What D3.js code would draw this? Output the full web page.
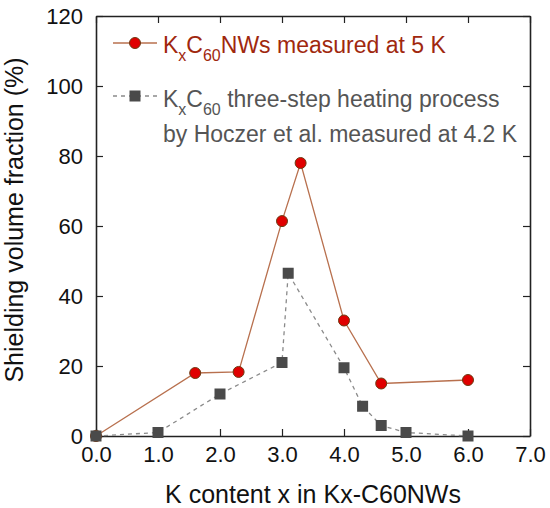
<!DOCTYPE html>
<html>
<head>
<meta charset="utf-8">
<script src="https://cdn.jsdelivr.net/npm/d3@7"></script>
<style>
  body { margin: 0; background: #fff; }
  text { font-family: "Liberation Sans", Arial, sans-serif; }
</style>
</head>
<body>
<div id="chart"></div>
<script>
// chart data
const nwX = [0, 1.6, 2.3, 3.0, 3.3, 4.0, 4.6, 6.0];
const nwY = [0, 18, 18.3, 61.4, 78, 33, 15, 16];
const hoX = [0, 1.0, 2.0, 3.0, 3.1, 4.0, 4.3, 4.6, 5.0, 6.0];
const hoY = [0, 1, 12, 21, 46.5, 19.5, 8.5, 3, 1, 0];
const xTicks = [0, 1, 2, 3, 4, 5, 6, 7];
const yTicks = [0, 20, 40, 60, 80, 100, 120];

const width = 550;
const height = 508;
const margin = {left: 96, right: 20, top: 16, bottom: 72};

const svg = d3.select("#chart")
  .append("svg")
  .attr("width", width)
  .attr("height", height);

const x = d3.scaleLinear()
  .domain([0, 7])
  .range([margin.left, width - margin.right]);

const y = d3.scaleLinear()
  .domain([0, 120])
  .range([height - margin.bottom, margin.top]);

const axisColor = "#222";

function styleAxis(g) {
  g.select(".domain").attr("stroke", axisColor).attr("stroke-width", 1.6);
  g.selectAll(".tick line").attr("stroke", axisColor).attr("stroke-width", 1.2);
  g.selectAll(".tick text").attr("fill", "#111").attr("font-size", "22px")
    .attr("font-family", "Liberation Sans, Arial, sans-serif");
}

// bottom axis
svg.append("g")
  .attr("transform", `translate(0,${y(0)})`)
  .call(d3.axisBottom(x).tickValues(xTicks).tickFormat(d3.format(".1f"))
    .tickSizeInner(-7).tickSizeOuter(0).tickPadding(10))
  .call(styleAxis);

// left axis
svg.append("g")
  .attr("transform", `translate(${x(0)},0)`)
  .call(d3.axisLeft(y).tickValues(yTicks)
    .tickSizeInner(-7).tickSizeOuter(0).tickPadding(13))
  .call(styleAxis);

// top and right frame
svg.append("g")
  .attr("transform", `translate(0,${y(120)})`)
  .call(d3.axisTop(x).tickValues(xTicks).tickFormat("")
    .tickSizeInner(-7).tickSizeOuter(0))
  .call(styleAxis);

svg.append("g")
  .attr("transform", `translate(${x(7)},0)`)
  .call(d3.axisRight(y).tickValues(yTicks).tickFormat("")
    .tickSizeInner(-7).tickSizeOuter(0))
  .call(styleAxis);

// axis titles
svg.append("text")
  .attr("x", (x(0) + x(7)) / 2)
  .attr("y", 503)
  .attr("text-anchor", "middle")
  .attr("font-size", "25px")
  .attr("fill", "#111")
  .text("K content x in Kx-C60NWs");

svg.append("text")
  .attr("transform", "translate(23,220) rotate(-90)")
  .attr("text-anchor", "middle")
  .attr("font-size", "25px")
  .attr("fill", "#111")
  .text("Shielding volume fraction (%)");

const redLine = "#b8704e";
const redFill = "#e00000";
const redEdge = "#6e3a12";
const grayFill = "#4a4a4a";
const grayLine = "#8a8a8a";

const nwData = nwX.map((d, i) => ({x: d, y: nwY[i]}));
const hoData = hoX.map((d, i) => ({x: d, y: hoY[i]}));

const line = d3.line().x(d => x(d.x)).y(d => y(d.y));

// Hoczer et al. series
svg.append("path")
  .datum(hoData)
  .attr("fill", "none")
  .attr("stroke", grayLine)
  .attr("stroke-width", 1.3)
  .attr("stroke-dasharray", "4,4")
  .attr("d", line);

// nanowire series
svg.append("path")
  .datum(nwData)
  .attr("fill", "none")
  .attr("stroke", redLine)
  .attr("stroke-width", 1.3)
  .attr("d", line);

svg.selectAll(".nw")
  .data(nwData)
  .enter()
  .append("circle")
    .attr("class", "nw")
    .attr("cx", d => x(d.x))
    .attr("cy", d => y(d.y))
    .attr("r", 5.5)
    .attr("fill", redFill)
    .attr("stroke", redEdge)
    .attr("stroke-width", 1);

svg.selectAll(".ho")
  .data(hoData)
  .enter()
  .append("rect")
    .attr("class", "ho")
    .attr("x", d => x(d.x) - 5.5)
    .attr("y", d => y(d.y) - 5.5)
    .attr("width", 11)
    .attr("height", 11)
    .attr("fill", grayFill);

// legend
const lg = svg.append("g");

lg.append("line")
  .attr("x1", 113).attr("x2", 157).attr("y1", 43).attr("y2", 43)
  .attr("stroke", redLine).attr("stroke-width", 1.3);
lg.append("circle")
  .attr("cx", 135).attr("cy", 43).attr("r", 5.5)
  .attr("fill", redFill).attr("stroke", redEdge);

const t1 = lg.append("text")
  .attr("x", 163).attr("y", 53)
  .attr("font-size", "23px")
  .attr("fill", "#a0280e");
t1.append("tspan").text("K");
t1.append("tspan").attr("font-size", "16px").attr("dy", 8).text("x");
t1.append("tspan").attr("dy", -8).text("C");
t1.append("tspan").attr("font-size", "16px").attr("dy", 8).text("60");
t1.append("tspan").attr("dy", -8).text("NWs measured at 5 K");

lg.append("line")
  .attr("x1", 113).attr("x2", 157).attr("y1", 96).attr("y2", 96)
  .attr("stroke", grayLine).attr("stroke-width", 1.3)
  .attr("stroke-dasharray", "4,4");
lg.append("rect")
  .attr("x", 129.5).attr("y", 90.5).attr("width", 11).attr("height", 11)
  .attr("fill", grayFill);

const t2 = lg.append("text")
  .attr("x", 163).attr("y", 107)
  .attr("font-size", "23px")
  .attr("fill", "#555");
t2.append("tspan").text("K");
t2.append("tspan").attr("font-size", "16px").attr("dy", 8).text("x");
t2.append("tspan").attr("dy", -8).text("C");
t2.append("tspan").attr("font-size", "16px").attr("dy", 8).text("60");
t2.append("tspan").attr("dy", -8).text(" three-step heating process");

lg.append("text")
  .attr("x", 163).attr("y", 142)
  .attr("font-size", "23px")
  .attr("fill", "#555")
  .text("by Hoczer et al. measured at 4.2 K");
</script>
</body>
</html>
